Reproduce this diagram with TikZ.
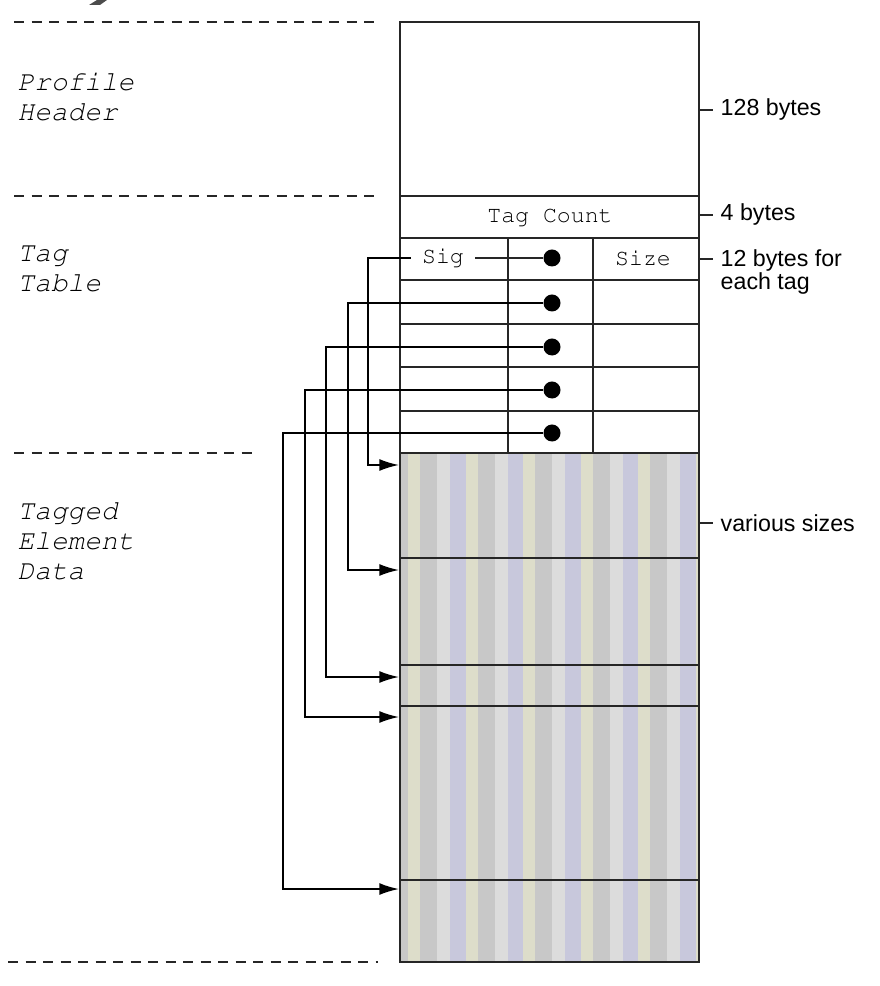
\documentclass[tikz,border=0pt]{standalone}
\usepackage[T1]{fontenc}
\usepackage{fontspec}
\usepackage{tikz}
\usetikzlibrary{arrows.meta,calc}
\newcommand\courfont{\fontencoding{T1}\fontfamily{pcr}\selectfont}
\newfontfamily\arialfont{Liberation Sans}
\definecolor{stripegray}{RGB}{200,200,200}
\definecolor{stripebeige}{RGB}{221,221,202}
\definecolor{stripelilac}{RGB}{200,200,220}
\definecolor{stripelight}{RGB}{220,220,220}

\begin{document}
\begin{tikzpicture}[x=0.01cm,y=-0.01cm,
  cellline/.style={draw=black!85,line width=0.55pt},
  partsep/.style={black!85,line width=0.6pt,dash pattern=on 0.1cm off 0.075cm},
  conn/.style={black,line width=0.5pt,-{Latex[length=5.6pt,width=3.4pt]}},
  ptr/.style={circle,fill=black,inner sep=0pt,minimum size=0.17cm},
  partlabel/.style={font=\courfont\itshape\fontsize{7.9}{8.5}\selectfont,
                    align=left,anchor=north west,inner sep=0pt},
  cell/.style={font=\courfont\fontsize{6.6}{7}\selectfont,inner sep=0pt},
  sizelabel/.style={font=\arialfont\fontsize{6.6}{6.6}\selectfont,
                    anchor=west,align=left,inner sep=0pt},
  sizetick/.style={black!85,line width=0.5pt}]
\useasboundingbox (0,0) rectangle (880,986);
\fill[black!70] (97,0) -- (107,0) -- (100,5) -- (89,5) -- cycle;

% section separators on the left
\draw[partsep] (14,22) -- (380,22);
\draw[partsep] (14,196) -- (380,196);
\draw[partsep] (14,453) -- (252,453);
\draw[partsep] (8,962) -- (378,962);
\node[partlabel] (profile) at (17,72) {Profile\\Header};
\node[partlabel] (tagtab) at (17,245) {Tag\\Table};
\node[partlabel] (tagged) at (17,501) {Tagged\\Element\\Data};

% tagged element data (striped fill)
\begin{scope}
\clip (400,453) rectangle (699,962);
\fill[stripegray] (400,453) rectangle (699,962);
\foreach \s in {0,...,5} {
  \fill[stripebeige] (408+57.5*\s,453) rectangle ++(12,509);
  \fill[stripelight] (437+57.5*\s,453) rectangle ++(13,509);
  \fill[stripelilac] (450+57.5*\s,453) rectangle ++(15.5,509);
}
\end{scope}

% the profile box
\draw[cellline] (400,22) rectangle (699,962);
\foreach \y in {196,238,280,324,367,411,453,558,665,706,880}
  \draw[cellline] (400,\y) -- (699,\y);
\draw[cellline] (508,238) -- (508,453);
\draw[cellline] (593,238) -- (593,453);
\node[cell] (tagcount) at (550,217) {Tag Count};
\node[cell,inner xsep=3pt] (sig) at (443,258) {Sig};
\node[cell] (size) at (643,258) {Size};

% offsets pointing into the data
\foreach \i/\y in {1/258,2/303,3/347,4/390,5/433}
  \node[ptr] (d\i) at (552,\y) {};
\foreach \i/\x/\y in {1/368/465,2/348/570,3/326/677,4/305/717,5/283/889} {
  \coordinate (c\i) at (\x,\y);
  \coordinate (a\i) at (399,\y);
}
\draw[cellline] (sig.east) -- (d1);
\draw[conn] (sig.west) -| (c1) -- (a1);
\foreach \i in {2,...,5}
  \draw[conn] (d\i) -| (c\i) -- (a\i);

% sizes on the right
\node[sizelabel,inner xsep=0.07cm] (hdrsize) at (713,110) {128 bytes};
\draw[sizetick] (699,110) -- (hdrsize.west);
\node[sizelabel,inner xsep=0.07cm] (cntsize) at (713,215) {4 bytes};
\draw[sizetick] (699,215) -- (cntsize.west);
\node[sizelabel,anchor=north west,inner xsep=0.07cm] (tagsize) at (713,249) {12 bytes for\\each tag};
\draw[sizetick] (699,259) -- (713,259);
\node[sizelabel,inner xsep=0.07cm] (datasize) at (713,523) {various sizes};
\draw[sizetick] (699,523) -- (datasize.west);
\end{tikzpicture}
\end{document}
